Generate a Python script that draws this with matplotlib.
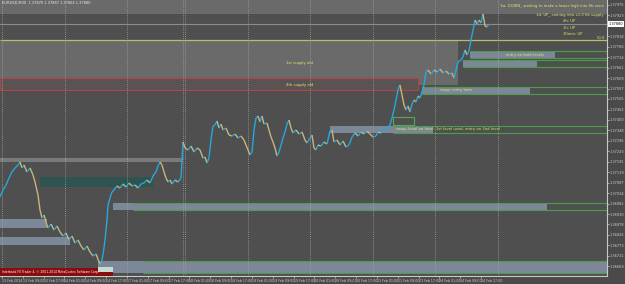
import matplotlib
matplotlib.use("Agg")
import matplotlib.pyplot as plt
import numpy as np
from matplotlib.patches import Rectangle
from matplotlib.collections import LineCollection
import matplotlib.transforms as mtrans

# ---------------- data ----------------
bars = [0, 3, 6, 9, 12, 15, 18, 20, 22, 24, 27, 30, 33, 35, 38, 40, 42, 44, 46, 48,
        51, 54, 57, 60, 63, 66, 69, 72, 75, 78, 81, 84, 87, 90, 93, 96, 99, 101, 103, 105,
        107, 108, 110, 112, 114, 117, 120, 123, 126, 129, 132, 135, 138, 141, 144, 147, 150, 153, 156, 158,
        160, 162, 164, 166, 168, 170, 172, 175, 178, 181, 183, 185, 188, 191, 194, 197, 200, 203, 205, 207,
        209, 211, 213, 215, 217, 219, 221, 223, 226, 229, 232, 235, 238, 241, 244, 246, 248, 250, 252, 254,
        256, 258, 260, 262, 264, 267, 269, 271, 273, 275, 277, 279, 281, 283, 285, 287, 289, 291, 293, 296,
        299, 302, 305, 307, 310, 312, 314, 316, 318, 321, 324, 327, 330, 332, 334, 337, 340, 343, 346, 349,
        352, 355, 358, 361, 364, 367, 370, 373, 376, 378, 381, 384, 387, 390, 392, 394, 396, 398, 400, 402,
        404, 406, 408, 410, 412, 414, 416, 418, 420, 422, 424, 426, 428, 431, 434, 437, 440, 443, 446, 449,
        452, 454, 456, 458, 461, 463, 465, 467, 469, 471, 473, 475, 477, 479, 481, 483, 485, 487, 489]
closes = [1.37015, 1.37050, 1.37075, 1.37110, 1.37140, 1.37160, 1.37175, 1.37190, 1.37160, 1.37175,
          1.37140, 1.37160, 1.37125, 1.37090, 1.37025, 1.36950, 1.36910, 1.36925, 1.36890, 1.36860,
          1.36880, 1.36850, 1.36870, 1.36840, 1.36820, 1.36835, 1.36800, 1.36820, 1.36785, 1.36800,
          1.36770, 1.36750, 1.36770, 1.36740, 1.36720, 1.36730, 1.36690, 1.36680, 1.36725, 1.36800,
          1.36900, 1.36975, 1.37010, 1.37040, 1.37050, 1.37070, 1.37060, 1.37080, 1.37065, 1.37085,
          1.37070, 1.37075, 1.37060, 1.37080, 1.37085, 1.37100, 1.37085, 1.37120, 1.37140, 1.37170,
          1.37190, 1.37175, 1.37140, 1.37110, 1.37090, 1.37100, 1.37080, 1.37100, 1.37090, 1.37110,
          1.37290, 1.37260, 1.37250, 1.37270, 1.37240, 1.37260, 1.37250, 1.37210, 1.37215, 1.37185,
          1.37210, 1.37300, 1.37370, 1.37375, 1.37395, 1.37360, 1.37380, 1.37350, 1.37360, 1.37325,
          1.37320, 1.37330, 1.37310, 1.37320, 1.37300, 1.37275, 1.37250, 1.37225, 1.37240, 1.37350,
          1.37410, 1.37420, 1.37390, 1.37420, 1.37380, 1.37385, 1.37350, 1.37315, 1.37290, 1.37260,
          1.37220, 1.37240, 1.37275, 1.37310, 1.37340, 1.37380, 1.37400, 1.37360, 1.37335, 1.37350,
          1.37330, 1.37340, 1.37300, 1.37285, 1.37310, 1.37325, 1.37260, 1.37250, 1.37275, 1.37270,
          1.37290, 1.37280, 1.37345, 1.37350, 1.37290, 1.37300, 1.37275, 1.37295, 1.37265, 1.37275,
          1.37315, 1.37335, 1.37320, 1.37340, 1.37330, 1.37345, 1.37330, 1.37315, 1.37320, 1.37340,
          1.37335, 1.37350, 1.37360, 1.37375, 1.37410, 1.37450, 1.37500, 1.37550, 1.37575, 1.37525,
          1.37475, 1.37450, 1.37470, 1.37440, 1.37480, 1.37500, 1.37490, 1.37520, 1.37510, 1.37540,
          1.37575, 1.37640, 1.37650, 1.37630, 1.37650, 1.37640, 1.37655, 1.37635, 1.37645, 1.37630,
          1.37635, 1.37610, 1.37650, 1.37690, 1.37700, 1.37715, 1.37750, 1.37725, 1.37745, 1.37800,
          1.37850, 1.37900, 1.37880, 1.37900, 1.37885, 1.37930, 1.37870, 1.37865, 1.37880]

price_ticks = [1.37975, 1.37923, 1.37870, 1.37818, 1.37766, 1.37714, 1.37661, 1.37609, 1.37557,
               1.37505, 1.37452, 1.37400, 1.37348, 1.37296, 1.37243, 1.37191, 1.37139, 1.37087,
               1.37034, 1.36982, 1.36930, 1.36878, 1.36825, 1.36773, 1.36721, 1.36669]

time_labels = ["13 Feb 2014", "13 Feb 09:00", "13 Feb 17:00", "14 Feb 01:00", "14 Feb 09:00",
               "14 Feb 17:00", "17 Feb 01:00", "17 Feb 09:00", "17 Feb 17:00", "18 Feb 01:00",
               "18 Feb 09:00", "18 Feb 17:00", "19 Feb 01:00", "19 Feb 09:00", "19 Feb 17:00",
               "20 Feb 01:00", "20 Feb 09:00", "20 Feb 17:00", "21 Feb 01:00", "21 Feb 09:00",
               "21 Feb 17:00", "24 Feb 01:00", "24 Feb 09:00", "24 Feb 17:00"]

separator_bars = [2, 65, 127, 183, 185, 248, 310, 373, 435, 498]

# zones drawn on chart: (bar_start, bar_end, price_low, price_high)
light_zones = [(0, 607, 1.37930, 1.38000), (0, 458, 1.37575, 1.37795)]
supply_rect = (0, 418, 1.37550, 1.37610)
fib_level = 1.37800
blue_zones = [(470, 555, 1.37710, 1.37740), (463, 537, 1.37665, 1.37700),
              (422, 530, 1.37530, 1.37565), (330, 433, 1.37335, 1.37370),
              (113, 547, 1.36950, 1.36985), (0, 47, 1.36860, 1.36905),
              (0, 70, 1.36775, 1.36815), (98, 607, 1.36635, 1.36695)]
green_bands = [(470, 607, 1.37710, 1.37745), (463, 607, 1.37665, 1.37700),
               (422, 607, 1.37530, 1.37565), (393, 607, 1.37335, 1.37370),
               (133, 607, 1.36950, 1.36985), (143, 607, 1.36635, 1.36695)]
green_box = (393, 414, 1.37375, 1.37415)
gray_band = (0, 183, 1.37190, 1.37210)
teal_rect = (40, 153, 1.37065, 1.37115)

# ---------------- figure ----------------
fig = plt.figure(figsize=(6.25, 2.84), dpi=100, facecolor='#4a4a4a')
ax = fig.add_axes([0, 8 / 284, 607 / 625, 276 / 284])
ax.set_facecolor('#4f4f4f')
ax.set_xlim(0, 607)
ax.set_ylim(1.36620, 1.38000)

def rect(z, fc, ec='none', lw=0, zo=1, alpha=1):
    ax.add_patch(Rectangle((z[0], z[2]), z[1] - z[0], z[3] - z[2], facecolor=fc,
                           edgecolor=ec, linewidth=lw, zorder=zo, alpha=alpha))

for z in light_zones:
    rect(z, '#6a6a6a', zo=0.5)
ax.hlines(fib_level, 0, 607, color='#b9bd6a', lw=0.9, zorder=1)
rect(supply_rect, '#5b5353', ec='#b04444', lw=0.8, zo=1)
rect(gray_band, '#7a7a7a', zo=1)
rect(teal_rect, '#2f534f', zo=1)
for z in green_bands:
    rect(z, '#4b524b', zo=1)
    ax.hlines([z[2], z[3]], z[0], z[1], color='#4f9a4f', lw=0.8, zorder=1.6)
for z in blue_zones:
    rect(z, '#7c8797', zo=1.5)
rect(green_box, 'none', ec='#55aa55', lw=0.8, zo=3)

for b in separator_bars:
    ax.axvline(b, color='#a0a0a0', lw=0.6, ls=(0, (1, 1.5)), zorder=2)

# price line (up segments cyan, down segments tan)
pts = np.column_stack([bars, closes])
segs = np.stack([pts[:-1], pts[1:]], axis=1)
up = np.diff(closes) >= 0
cols = ['#25a9dc' if u else '#c9b57c' for u in up]
ax.add_collection(LineCollection(segs, colors=cols, linewidths=1.0, zorder=4))

# bid line
ax.axhline(closes[-1], color='#8c8c8c', lw=0.8, zorder=2)

# copyright box
ax.add_patch(Rectangle((0, 1.36620), 113, 0.00040, facecolor='#8b0c0c', zorder=5))
ax.add_patch(Rectangle((98, 1.36640), 15, 0.00025, facecolor='#c5dcd6', zorder=5))
ax.text(2, 1.36638, "Interbank FX Trader 4, \u00a9 2001-2014 MetaQuotes Software Corp.",
        fontsize=2.2, color='white', va='center', ha='left', zorder=6)

yel = '#e3e36a'
fs = 2.7
ax.text(2, 1.37985, "EURUSD,M30  1.37876 1.37887 1.37864 1.37880", fontsize=2.6,
        color='#e8e8e8', va='center', ha='left', zorder=6)
ax.text(300, 1.37685, "1st supply old", fontsize=fs, color=yel, ha='center', va='center', zorder=6)
ax.text(300, 1.37575, "4th supply old", fontsize=fs, color=yel, ha='center', va='center', zorder=6)
ax.text(604, 1.37970, "1w: DOWN_ waiting to make a lower high into fib zone", fontsize=fs,
        color=yel, ha='right', va='center', zorder=6)
ax.text(604, 1.37925, "1d: UP_ coming into x1.0 fib supply", fontsize=fs,
        color=yel, ha='right', va='center', zorder=6)
ax.text(563, 1.37895, "4h: UP", fontsize=fs, color=yel, ha='left', va='center', zorder=6)
ax.text(563, 1.37860, "1h: UP", fontsize=fs, color=yel, ha='left', va='center', zorder=6)
ax.text(563, 1.37830, "30min: UP", fontsize=fs, color=yel, ha='left', va='center', zorder=6)
ax.text(605, fib_level + 0.00008, "50.0", fontsize=fs, color=yel, ha='right', va='center', zorder=6)
ax.text(525, 1.37726, "entry on both levels", fontsize=fs, color=yel, ha='center', va='center', zorder=6)
ax.text(440, 1.37548, "swap, entry here", fontsize=fs, color=yel, ha='left', va='center', zorder=6)
ax.text(396, 1.37353, "swap, level on level, 1st level used, entry on 2nd level", fontsize=fs,
        color=yel, ha='left', va='center', zorder=6)

# axes styling
for s in ['top', 'left']:
    ax.spines[s].set_visible(False)
for s in ['right', 'bottom']:
    ax.spines[s].set_color('#c8c8c8')
    ax.spines[s].set_linewidth(0.8)

ax.yaxis.tick_right()
ax.set_yticks(price_ticks)
ax.set_yticklabels([f"{p:.5f}" for p in price_ticks])
ax.tick_params(axis='y', length=1.5, width=0.5, colors='#d0d0d0', labelsize=2.5, pad=0.6)

xt = 2 + 20.83 * np.arange(len(time_labels))
ax.set_xticks(xt)
ax.set_xticklabels(time_labels, ha='left')
ax.tick_params(axis='x', length=1.5, width=0.5, colors='#d0d0d0', labelsize=2.3, pad=0.8)

tr = mtrans.blended_transform_factory(ax.transAxes, ax.transData)
ax.text(1.003, closes[-1], f"{closes[-1]:.5f}", transform=tr, fontsize=2.5, color='black',
        va='center', ha='left', bbox=dict(boxstyle='square,pad=0.15', fc='white', ec='none'),
        zorder=7, clip_on=False)

fig.savefig("out.png", dpi=100, facecolor=fig.get_facecolor())
